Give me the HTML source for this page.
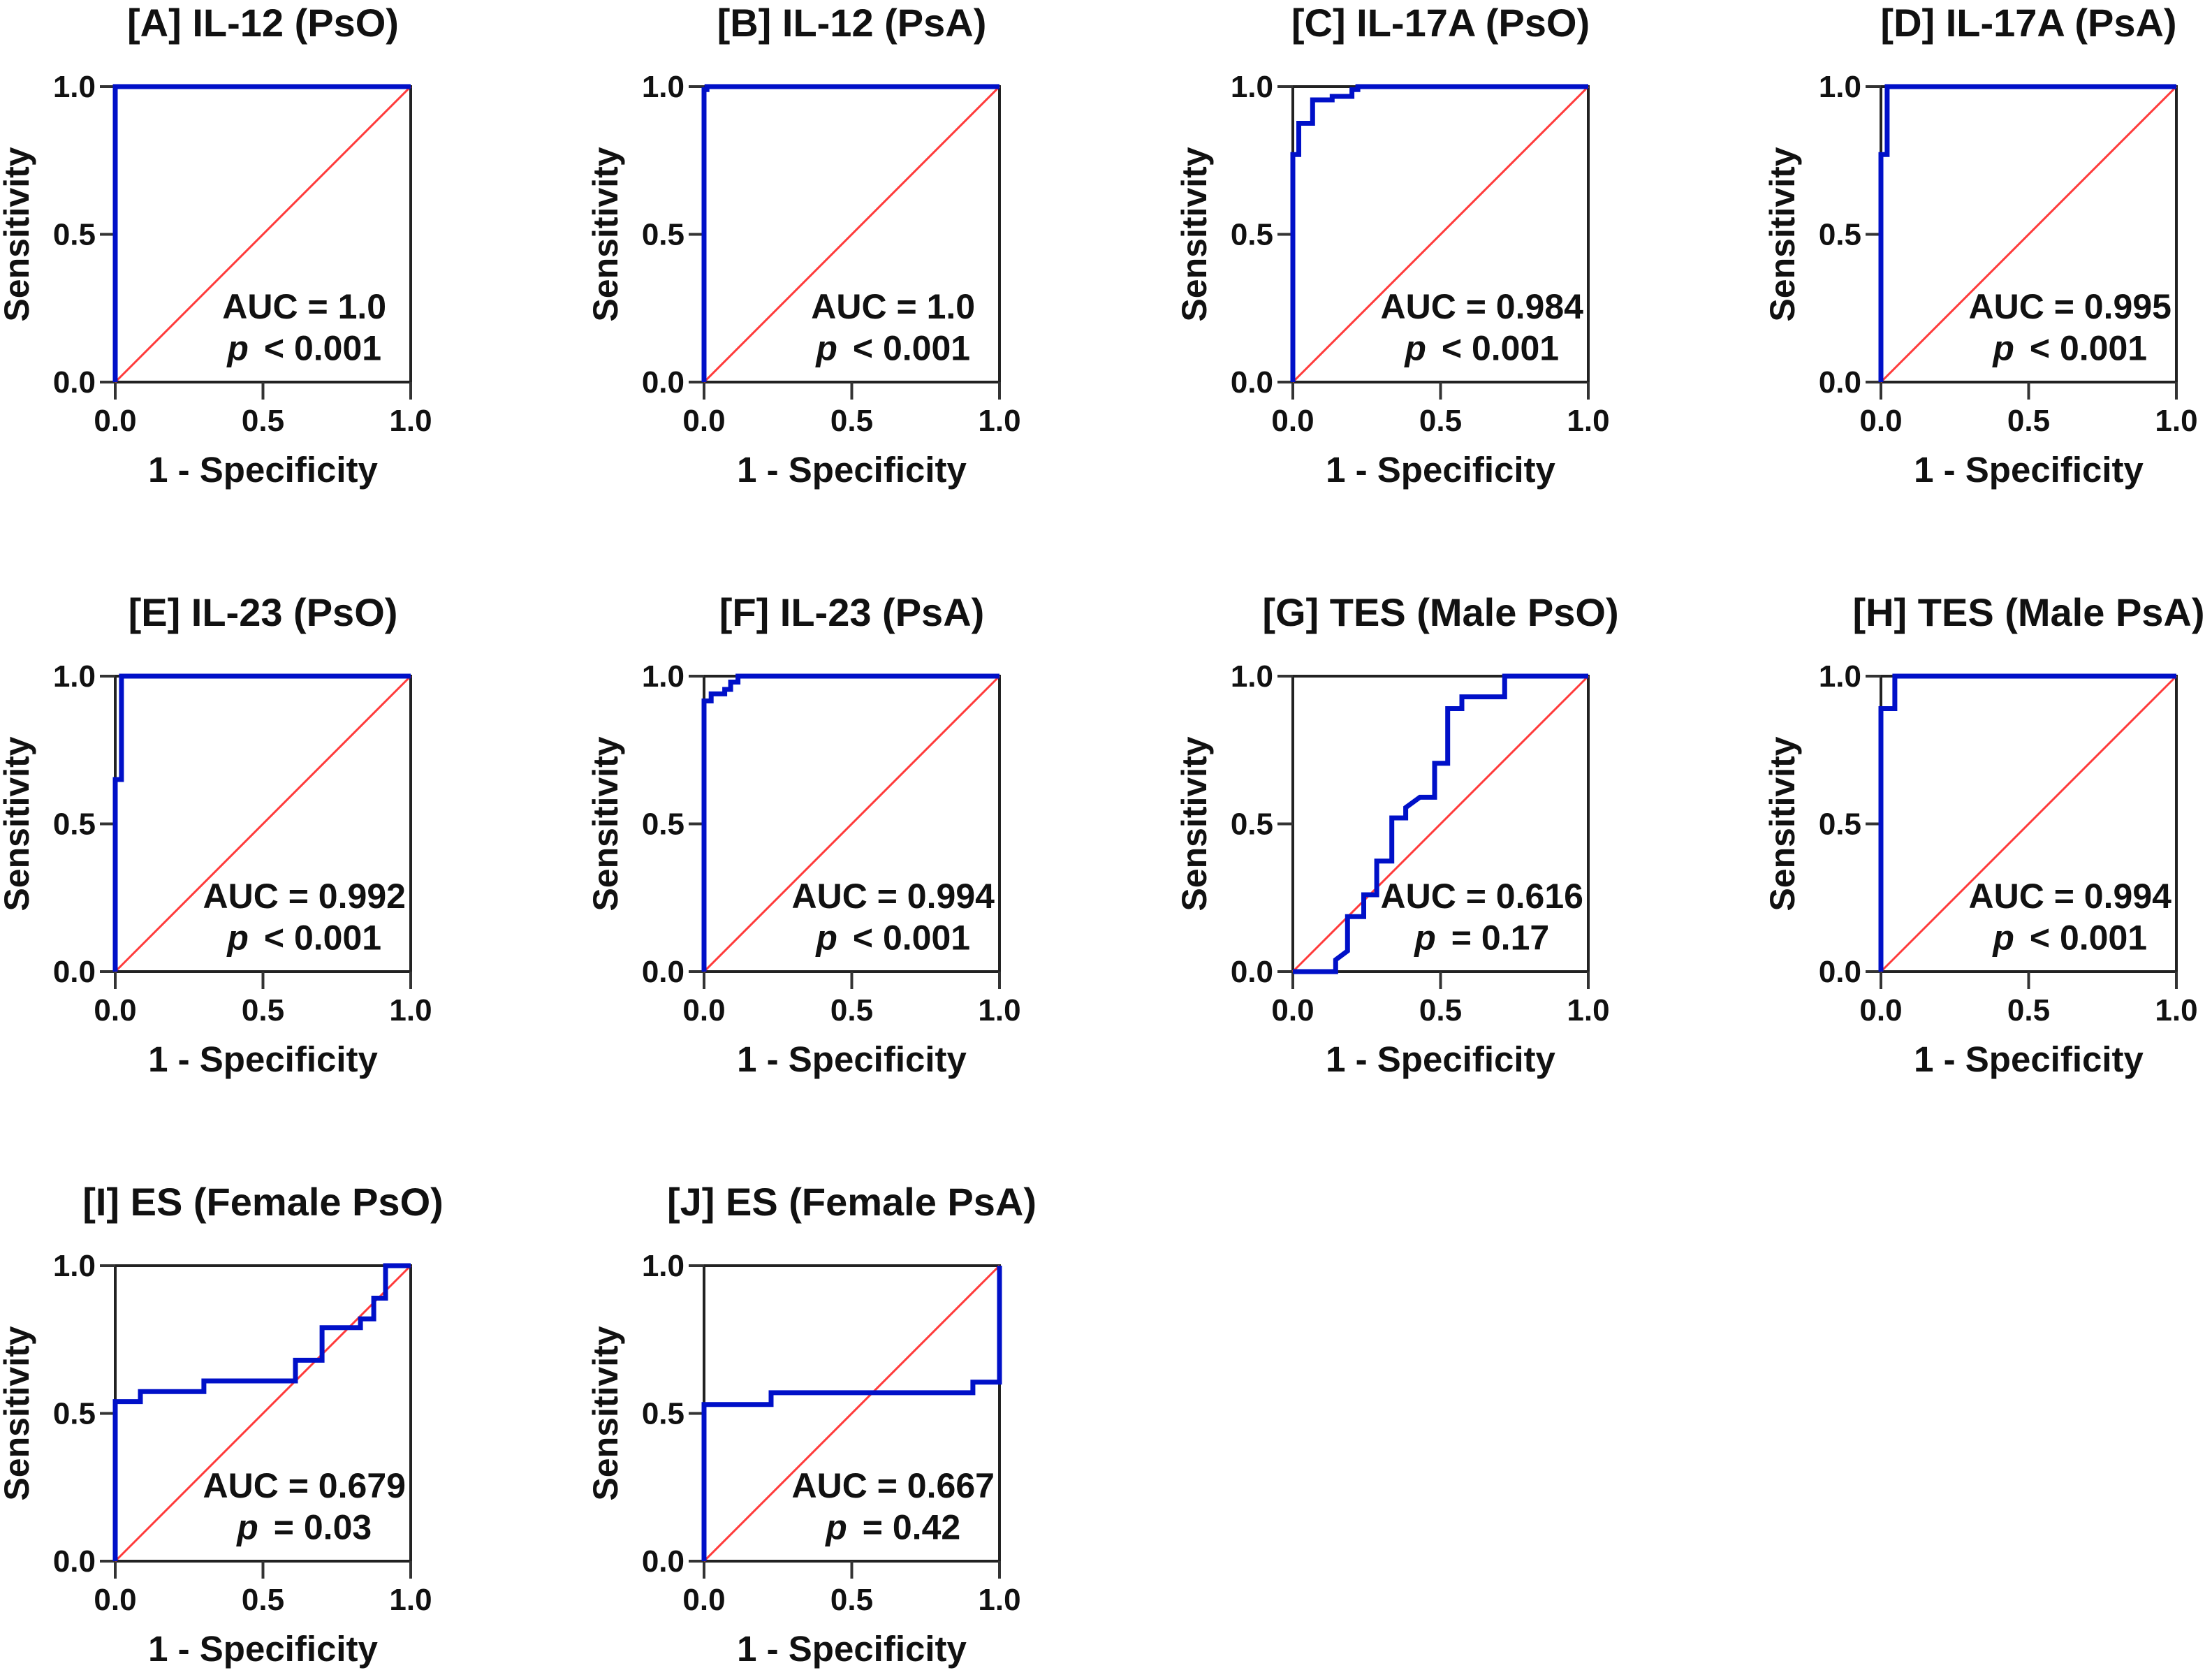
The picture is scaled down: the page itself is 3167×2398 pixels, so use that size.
<!DOCTYPE html>
<html><head><meta charset="utf-8"><style>
html,body{margin:0;padding:0;background:#fff;}
svg{display:block;font-family:"Liberation Sans",Arial,sans-serif;}
</style></head><body>
<svg id="fig" width="3167" height="2398" viewBox="0 0 3167 2398" xmlns="http://www.w3.org/2000/svg"></svg>
<script>
// ---- data ----
const panelTitles = ["[A] IL-12 (PsO)","[B] IL-12 (PsA)","[C] IL-17A (PsO)","[D] IL-17A (PsA)","[E] IL-23 (PsO)","[F] IL-23 (PsA)","[G] TES (Male PsO)","[H] TES (Male PsA)","[I] ES (Female PsO)","[J] ES (Female PsA)"];
const aucLabels = ["AUC = 1.0","AUC = 1.0","AUC = 0.984","AUC = 0.995","AUC = 0.992","AUC = 0.994","AUC = 0.616","AUC = 0.994","AUC = 0.679","AUC = 0.667"];
const pOps = ["<","<","<","<","<","<","=","<","=","="];
const pValues = ["0.001","0.001","0.001","0.001","0.001","0.001","0.17","0.001","0.03","0.42"];
const tickValues = [0, 0.5, 1];
const tickLabels = ["0.0","0.5","1.0"];
// ROC step curves: [1-specificity, sensitivity] vertices
const rocA = [[0,0],[0,1],[1,1]];
const rocB = [[0,0],[0,0.99],[0.01,0.99],[0.01,1],[1,1]];
const rocC = [[0,0],[0,0.77],[0.02,0.77],[0.02,0.876],[0.067,0.876],[0.067,0.955],[0.133,0.955],[0.133,0.967],[0.2,0.967],[0.2,0.99],[0.22,0.99],[0.22,1],[1,1]];
const rocD = [[0,0],[0,0.77],[0.021,0.77],[0.021,1],[1,1]];
const rocE = [[0,0],[0,0.65],[0.021,0.65],[0.021,1],[1,1]];
const rocF = [[0,0],[0,0.916],[0.024,0.916],[0.024,0.94],[0.07,0.94],[0.07,0.955],[0.09,0.955],[0.09,0.98],[0.115,0.98],[0.115,1],[1,1]];
const rocG = [[0,0],[0.145,0],[0.145,0.04],[0.185,0.07],[0.185,0.186],[0.24,0.186],[0.24,0.26],[0.284,0.26],[0.284,0.374],[0.335,0.374],[0.335,0.52],[0.382,0.52],[0.382,0.555],[0.43,0.59],[0.48,0.59],[0.48,0.705],[0.524,0.705],[0.524,0.89],[0.572,0.89],[0.572,0.93],[0.717,0.93],[0.717,1],[1,1]];
const rocH = [[0,0],[0,0.89],[0.047,0.89],[0.047,1],[1,1]];
const rocI = [[0,0],[0,0.54],[0.085,0.54],[0.085,0.574],[0.3,0.574],[0.3,0.61],[0.61,0.61],[0.61,0.68],[0.7,0.68],[0.7,0.79],[0.83,0.79],[0.83,0.82],[0.875,0.82],[0.875,0.89],[0.915,0.89],[0.915,1],[1,1]];
const rocJ = [[0,0],[0,0.53],[0.227,0.53],[0.227,0.57],[0.91,0.57],[0.91,0.606],[1,0.606],[1,1]];
const rocCurves = [rocA,rocB,rocC,rocD,rocE,rocF,rocG,rocH,rocI,rocJ];

// ---- layout ----
const colLeft = [165, 1008, 1851, 2693];
const rowTop = [124, 968, 1812];
const S = 423;
const NS = "http://www.w3.org/2000/svg";
const svg = document.getElementById('fig');
function mk(tag, attrs, parent){ const e=document.createElementNS(NS,tag); for(const k in attrs) e.setAttribute(k,attrs[k]); (parent||svg).appendChild(e); return e; }

panelTitles.forEach((title, i) => {
  const L = colLeft[i % 4], T = rowTop[Math.floor(i / 4)];
  const xs = v => L + v * S;
  const ys = v => T + S - v * S;
  const g = mk('g', {});
  
  

  const t = mk('text', {x: L + S/2, y: T - 72, 'text-anchor':'middle', 'font-size':56, 'font-weight':'bold', fill:'#111'}, g);
  t.textContent = title;
  
  

  const fr = mk('rect', {x: L, y: T, width: S, height: S, fill:'none', stroke:'#222', 'stroke-width':4}, g);
  
  

  tickValues.forEach((v, k) => {
    const yt = mk('line', {x1: L - 22, x2: L, y1: ys(v), y2: ys(v), stroke:'#333', 'stroke-width':4}, g);
    
    
    const yl = mk('text', {x: L - 28, y: ys(v) + 15, 'text-anchor':'end', 'font-size':44, 'font-weight':'bold', fill:'#111'}, g);
    yl.textContent = tickLabels[k];
    
    
    const xt = mk('line', {x1: xs(v), x2: xs(v), y1: T + S, y2: T + S + 25, stroke:'#333', 'stroke-width':4}, g);
    
    
    const xl = mk('text', {x: xs(v), y: T + S + 70, 'text-anchor':'middle', 'font-size':44, 'font-weight':'bold', fill:'#111'}, g);
    xl.textContent = tickLabels[k];
    
    
  });

  const xa = mk('text', {x: L + S/2, y: T + S + 143, 'text-anchor':'middle', 'font-size':51, 'font-weight':'bold', fill:'#111'}, g);
  xa.textContent = '1 - Specificity';
  
  
  const ya = mk('text', {x: 0, y: 0, transform: `translate(${L - 124},${T + S/2}) rotate(-90)`, 'text-anchor':'middle', 'font-size':50, 'font-weight':'bold', fill:'#111'}, g);
  ya.textContent = 'Sensitivity';
  
  

  const dg = mk('line', {x1: xs(0), y1: ys(0), x2: xs(1), y2: ys(1), stroke:'#ff3b3b', 'stroke-width':3}, g);
  
  

  const pts = rocCurves[i].map(p => xs(p[0]).toFixed(1) + ',' + ys(p[1]).toFixed(1)).join(' ');
  const pl = mk('polyline', {points: pts, fill:'none', stroke:'#0010c8', 'stroke-width':7, 'stroke-linejoin':'miter'}, g);
  
  

  const cx = L + 0.64 * S;
  const a = mk('text', {x: cx, y: T + 0.785 * S, 'text-anchor':'middle', 'font-size':50, 'font-weight':'bold', fill:'#111'}, g);
  a.textContent = aucLabels[i];
  
  
  const p = mk('text', {x: cx, y: T + 0.925 * S, 'text-anchor':'middle', 'font-size':50, 'font-weight':'bold', fill:'#111'}, g);
  
  
  const pi = mk('tspan', {'font-style':'italic'}, p);
  pi.textContent = 'p';
  const pr = mk('tspan', {dx: 22}, p);
  pr.textContent = pOps[i] + ' ' + pValues[i];
});
</script>
</body></html>
